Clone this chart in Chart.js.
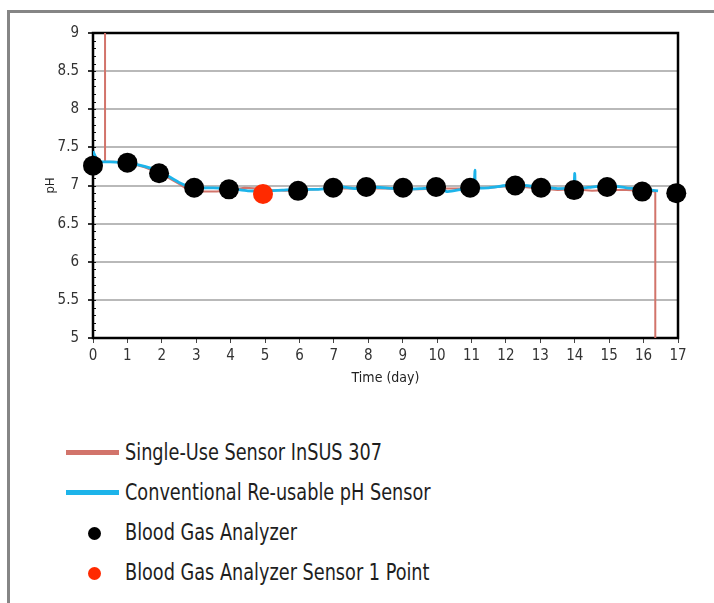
<!DOCTYPE html>
<html>
<head>
<meta charset="utf-8">
<script src="https://cdn.jsdelivr.net/npm/chart.js@4/dist/chart.umd.min.js"></script>
<style>
  html, body { margin: 0; padding: 0; background: #fff; }
  body { width: 714px; height: 603px; position: relative; overflow: hidden;
         font-family: 'DejaVu Sans Condensed', 'DejaVu Sans', sans-serif; }
  .moldura { position: absolute; left: 7px; top: 10px; width: 720px; height: 600px;
             border-left: 3px solid #858585; border-top: 3px solid #858585; }
  #grafico { position: absolute; left: 0; top: 0; }
  .legenda { position: absolute; left: 0; top: 434px; }
  .item { position: absolute; left: 0; height: 40px; width: 500px; }
  .item span { position: absolute; left: 125px; top: 5px; font-size: 23px; color: #1e1e1e;
               white-space: nowrap; transform: scaleX(0.855); transform-origin: 0 50%; }
  .traco { position: absolute; left: 66px; top: 16px; width: 53px; height: 5px; }
  .bola { position: absolute; left: 88px; top: 13px; width: 13px; height: 13px; border-radius: 50%; }
</style>
</head>
<body>
<div class="moldura"></div>
<canvas id="grafico" width="714" height="400"></canvas>
<div class="legenda" id="legenda"></div>

<script>
const SALMAO = '#d2746b', CIANO = '#1db4ea', PRETO = '#000000', VERMELHO = '#ff2a00';
const FONTE = "'DejaVu Sans Condensed', 'DejaVu Sans', sans-serif";

// tick labels
const X_TICKS = [0, 1, 2, 3, 4, 5, 6, 7, 8, 9, 10, 11, 12, 13, 14, 15, 16, 17];
const Y_TICKS = [5, 5.5, 6, 6.5, 7, 7.5, 8, 8.5, 9];

// Blood Gas Analyzer (black dots)
const bgaDays = [0, 1, 1.92, 2.94, 3.95, 5.96, 6.98, 7.94, 9.01, 9.97, 10.96, 12.27, 13.02, 13.98, 14.94, 15.96, 16.95];
const bgaPh   = [7.26, 7.30, 7.16, 6.97, 6.95, 6.93, 6.97, 6.98, 6.97, 6.98, 6.97, 7.00, 6.97, 6.94, 6.98, 6.92, 6.90];

// Blood Gas Analyzer Sensor 1 Point (red dot)
const pointDays = [4.94];
const pointPh   = [6.89];

// Conventional Re-usable pH Sensor (blue line)
const reusableDays = [0, 0.15, 0.5, 1.0, 1.5, 2.0, 2.5, 2.9, 3.5, 4.0, 4.5, 5.0, 5.5, 6.0, 6.5, 7.0, 7.3, 7.6, 8.0, 8.5,
                      9.0, 9.5, 10.0, 10.3, 10.7, 11.05, 11.1, 11.13, 11.5, 12.0, 12.5, 13.0, 13.5, 13.95, 14.0, 14.04,
                      14.5, 15.0, 15.5, 16.0, 16.42];
const reusablePh   = [7.45, 7.32, 7.31, 7.30, 7.25, 7.17, 7.04, 6.97, 6.97, 6.96, 6.93, 6.93, 6.94, 6.95, 6.95, 6.97, 6.98, 6.96, 6.98, 6.97,
                      6.95, 6.96, 6.97, 6.92, 6.95, 6.98, 7.20, 6.98, 6.97, 7.00, 7.00, 6.98, 6.96, 6.98, 7.16, 6.97,
                      6.98, 7.00, 6.97, 6.95, 6.93];

// Single-Use Sensor InSUS 307 (salmon line)
const singleUseDays = [0.35, 0.35, 0.6, 1.0, 1.5, 2.0, 2.5, 2.8, 3.2, 3.6, 4.0, 4.4, 4.8, 5.2, 5.6, 6.0, 6.5, 7.0, 7.5,
                       8.0, 8.5, 9.0, 9.5, 10.0, 10.5, 11.0, 11.5, 12.0, 12.5, 13.0, 13.5, 14.0, 14.5, 15.0, 15.5,
                       16.0, 16.34, 16.34];
const singleUsePh   = [9, 7.31, 7.31, 7.30, 7.24, 7.15, 7.02, 6.93, 6.92, 6.92, 6.94, 6.97, 6.96, 6.94, 6.93, 6.94, 6.95, 6.96, 6.96,
                       6.96, 6.96, 6.95, 6.95, 6.96, 6.96, 6.96, 6.97, 6.99, 6.98, 6.96, 6.94, 6.95, 6.93, 6.94, 6.94,
                       6.93, 6.92, 5];

const LEGENDA = [
  { texto: 'Single-Use Sensor InSUS 307', cor: SALMAO, tipo: 'traco' },
  { texto: 'Conventional Re-usable pH Sensor', cor: CIANO, tipo: 'traco' },
  { texto: 'Blood Gas Analyzer', cor: PRETO, tipo: 'bola' },
  { texto: 'Blood Gas Analyzer Sensor 1 Point', cor: VERMELHO, tipo: 'bola' },
];

function pares(xs, ys) {
  return xs.map((x, i) => ({ x, y: ys[i] }));
}

// moldura preta do gráfico + traços menores do eixo y (a cada 0,1)
const molduraPlugin = {
  id: 'moldura',
  beforeDatasetsDraw(chart) {
    const { ctx, chartArea: a, scales } = chart;
    ctx.save();
    ctx.strokeStyle = '#111';
    ctx.lineWidth = 1;
    const y = scales.y;
    for (let v = Y_TICKS[0]; v <= Y_TICKS[Y_TICKS.length - 1] + 1e-9; v += 0.1) {
      const py = Math.round(y.getPixelForValue(v)) + 0.5;
      ctx.beginPath();
      ctx.moveTo(a.left, py);
      ctx.lineTo(a.left + 3, py);
      ctx.stroke();
    }
    ctx.lineWidth = 2.5;
    ctx.strokeStyle = '#000';
    ctx.strokeRect(a.left, a.top, a.right - a.left, a.bottom - a.top);
    ctx.restore();
  },
};

function montarGrafico() {
  new Chart(document.getElementById('grafico'), {
    type: 'scatter',
    data: {
      datasets: [
        { label: 'Blood Gas Analyzer Sensor 1 Point', data: pares(pointDays, pointPh), order: 0, clip: false,
          pointRadius: 10, pointBackgroundColor: VERMELHO, pointBorderWidth: 0 },
        { label: 'Blood Gas Analyzer', data: pares(bgaDays, bgaPh), order: 1, clip: false,
          pointRadius: 10, pointBackgroundColor: PRETO, pointBorderWidth: 0 },
        { label: 'Conventional Re-usable pH Sensor', data: pares(reusableDays, reusablePh), order: 2,
          showLine: true, borderColor: CIANO, borderWidth: 2.8, pointRadius: 0, tension: 0.2 },
        { label: 'Single-Use Sensor InSUS 307', data: pares(singleUseDays, singleUsePh), order: 3,
          showLine: true, borderColor: SALMAO, borderWidth: 2, pointRadius: 0, tension: 0 },
      ],
    },
    options: {
      responsive: false, animation: false, devicePixelRatio: 1,
      layout: { padding: { left: 43, top: 33, right: 36, bottom: 12 } },
      plugins: { legend: { display: false }, tooltip: { enabled: false } },
      scales: {
        x: {
          type: 'linear', min: 0, max: 17,
          afterBuildTicks: (s) => { s.ticks = X_TICKS.map((v) => ({ value: v })); },
          afterFit: (s) => { s.height = 50; },
          ticks: { padding: 4, color: '#333', font: { family: FONTE, size: 15 } },
          grid: { drawOnChartArea: false, tickLength: 5, tickColor: '#444', lineWidth: 1 },
          border: { display: false },
          title: { display: true, text: 'Time (day)', color: '#222', padding: { top: 0, bottom: 1 },
                   font: { family: FONTE, size: 14 } },
        },
        y: {
          type: 'linear', min: 5, max: 9,
          afterBuildTicks: (s) => { s.ticks = Y_TICKS.map((v) => ({ value: v })); },
          afterFit: (s) => { s.width = 50; },
          ticks: { padding: 9, color: '#333', font: { family: FONTE, size: 15 },
                   callback: (v) => String(v) },
          grid: { color: '#b9b9b9', lineWidth: 2, tickLength: 5, tickColor: '#333' },
          border: { display: false },
          title: { display: true, text: 'pH', color: '#222', padding: 0, font: { family: FONTE, size: 13 } },
        },
      },
    },
    plugins: [molduraPlugin],
  });
}

function montarLegenda() {
  const cont = document.getElementById('legenda');
  LEGENDA.forEach((l, i) => {
    const item = document.createElement('div');
    item.className = 'item';
    item.style.top = (i * 40) + 'px';
    const marca = document.createElement('div');
    marca.className = l.tipo;
    marca.style.background = l.cor;
    const txt = document.createElement('span');
    txt.textContent = l.texto;
    item.append(marca, txt);
    cont.appendChild(item);
  });
}

montarLegenda();
montarGrafico();
</script>
</body>
</html>
